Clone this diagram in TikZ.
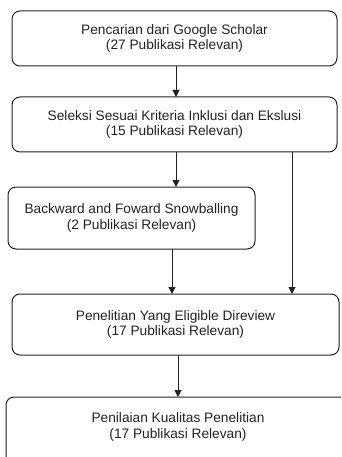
\documentclass[tikz,border=0pt]{standalone}
\usepackage{fontspec}
\setmainfont{Liberation Sans}
\usetikzlibrary{arrows.meta}
\definecolor{ln}{HTML}{222222}
\begin{document}
\begin{tikzpicture}[x=1pt,y=-1pt,
  box/.style={draw=ln,line width=1pt,rounded corners=8pt},
  lbl/.style={align=center,font=\fontsize{13.7}{15.5}\selectfont,text=ln},
  arr/.style={draw=ln,line width=1pt,-{Triangle[length=7pt,width=7pt]}}]
\useasboundingbox (0,0) rectangle (341,457);
\clip (0,0) rectangle (341,457);
\draw[box] (12,11) rectangle (337,66);
\node[lbl] (b1) at (174.5,38.5) {Pencarian dari Google Scholar\\(27 Publikasi Relevan)};
\draw[box] (12,97) rectangle (337,152);
\node[lbl] (b2) at (174.5,124.5) {Seleksi Sesuai Kriteria Inklusi dan Ekslusi\\(15 Publikasi Relevan)};
\draw[box] (8,187) rectangle (255,249);
\node[lbl] (b3) at (131.5,218) {Backward and Foward Snowballing\\(2 Publikasi Relevan)};
\draw[box] (12,294) rectangle (339,355);
\node[lbl] (b4) at (175.5,324.5) {Penelitian Yang Eligible Direview\\(17 Publikasi Relevan)};
\draw[box] (6,397) rectangle (352,470);
\node[lbl] (b5) at (178,427) {Penilaian Kualitas Penelitian\\(17 Publikasi Relevan)};
\coordinate (a1s) at (176,66); \coordinate (a1e) at (176,97);
\coordinate (a2s) at (176,152); \coordinate (a2e) at (176,187);
\coordinate (a3s) at (292,152); \coordinate (a3e) at (292,294);
\coordinate (a4s) at (172,249); \coordinate (a4e) at (172,294);
\coordinate (a5s) at (178,355); \coordinate (a5e) at (178,397);
\draw[arr] (a1s) -- (a1e);
\draw[arr] (a2s) -- (a2e);
\draw[arr] (a3s) -- (a3e);
\draw[arr] (a4s) -- (a4e);
\draw[arr] (a5s) -- (a5e);
\end{tikzpicture}
\end{document}
